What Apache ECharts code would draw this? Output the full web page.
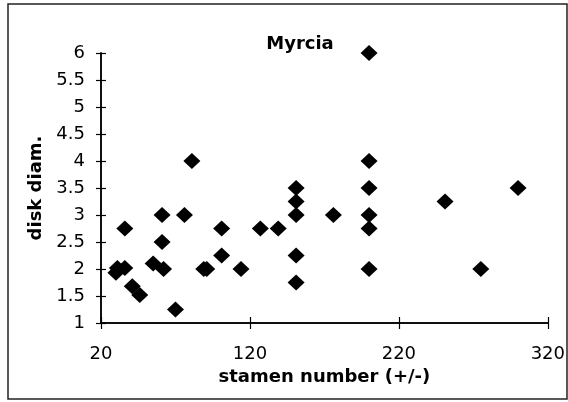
<!DOCTYPE html>
<html>
<head>
<meta charset="utf-8">
<script src="https://cdn.jsdelivr.net/npm/echarts@6/dist/echarts.min.js"></script>
<style>
  html, body { margin: 0; padding: 0; background: #fff; }
  #chart { width: 568px; height: 402px; }
</style>
</head>
<body>
<div id="chart"></div>
<script>
// stamen number (+/-) and disk diam.
const stamenNumber = [30, 31, 36, 36, 41, 46, 55, 62, 61, 61, 70, 76, 81, 89, 91, 101, 101, 114, 127, 139,
  151, 151, 151, 151, 151, 176, 200, 200, 200, 200, 200, 200, 251, 275, 300];
const diskDiam = [1.93, 2.02, 2.02, 2.75, 1.68, 1.52, 2.1, 2.0, 2.5, 3.0, 1.25, 3.0, 4.0, 2.0, 2.0, 2.25, 2.75, 2.0, 2.75, 2.75,
  3.5, 3.25, 3.0, 2.25, 1.75, 3.0, 6.0, 4.0, 3.5, 3.0, 2.75, 2.0, 3.25, 2.0, 3.5];
const xTicks = [20, 120, 220, 320];
const yTicks = [1, 1.5, 2, 2.5, 3, 3.5, 4, 4.5, 5, 5.5, 6];

const font = '"DejaVu Sans", sans-serif';
const ink = '#000';

const chart = echarts.init(document.getElementById('chart'), null, { renderer: 'canvas' });

const points = stamenNumber.map((x, i) => [x, diskDiam[i]]);

// ticks cross the axis line: outside ticks on grid 0, inside ticks on an identical grid 1
const plotBox = { left: 101, right: 20, top: 53, bottom: 79 };

function xAxisFor(gridIndex, inside) {
  return {
    type: 'value',
    gridIndex: gridIndex,
    min: xTicks[0],
    max: xTicks[xTicks.length - 1],
    interval: 100,
    splitLine: { show: false },
    axisLine: { show: true, onZero: false, lineStyle: { color: ink, width: 1.5 } },
    axisTick: { show: true, inside: inside, length: 6, lineStyle: { color: ink, width: 1.2 } }
  };
}
function yAxisFor(gridIndex, inside) {
  return {
    type: 'value',
    gridIndex: gridIndex,
    min: yTicks[0],
    max: yTicks[yTicks.length - 1],
    interval: 0.5,
    splitLine: { show: false },
    axisLine: { show: true, onZero: false, lineStyle: { color: ink, width: 1.5 } },
    axisTick: { show: true, inside: inside, length: 5, lineStyle: { color: ink, width: 1.2 } }
  };
}

chart.setOption({
  animation: false,
  backgroundColor: '#fff',
  title: {
    text: 'Myrcia',
    left: 295,
    top: 30,
    textAlign: 'center',
    textStyle: { fontFamily: font, fontSize: 18, fontWeight: 'bold', color: ink }
  },
  grid: [plotBox, Object.assign({}, plotBox)],
  xAxis: [
    Object.assign(xAxisFor(0, false), {
      name: 'stamen number (+/-)',
      nameLocation: 'middle',
      nameGap: 42,
      nameTextStyle: { fontFamily: font, fontSize: 18, fontWeight: 'bold', color: ink },
      axisLabel: { margin: 22, fontFamily: font, fontSize: 18, color: ink }
    }),
    Object.assign(xAxisFor(1, true), { axisLabel: { show: false } })
  ],
  yAxis: [
    Object.assign(yAxisFor(0, false), {
      name: 'disk diam.',
      nameLocation: 'middle',
      nameGap: 56,
      nameTextStyle: { fontFamily: font, fontSize: 18, fontWeight: 'bold', color: ink },
      axisLabel: { margin: 16, fontFamily: font, fontSize: 18, color: ink }
    }),
    Object.assign(yAxisFor(1, true), { axisLabel: { show: false } })
  ],
  series: [{
    type: 'scatter',
    xAxisIndex: 0,
    yAxisIndex: 0,
    symbol: 'diamond',
    symbolSize: [17, 16],
    itemStyle: { color: '#000', opacity: 1 },
    data: points
  }, {
    // invisible point so grid 1 gets laid out
    type: 'scatter',
    xAxisIndex: 1,
    yAxisIndex: 1,
    symbolSize: 0,
    silent: true,
    data: [[xTicks[0], yTicks[0]]]
  }],
  graphic: [{
    type: 'rect',
    shape: { x: 8, y: 4, width: 559, height: 395 },
    style: { fill: 'none', stroke: '#222', lineWidth: 1.5 },
    silent: true
  }]
});
</script>
</body>
</html>
